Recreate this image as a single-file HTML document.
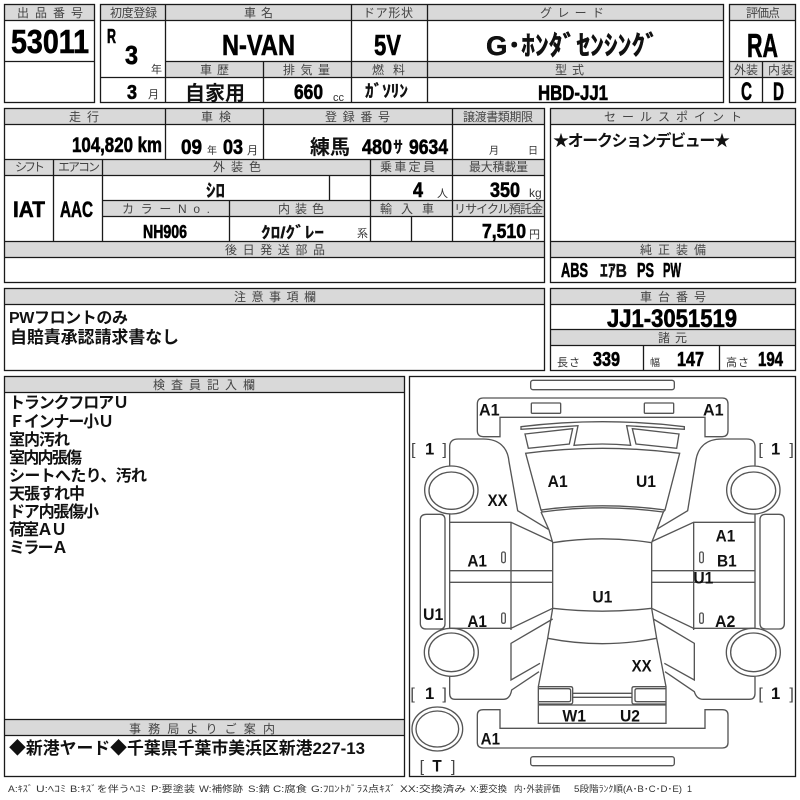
<!DOCTYPE html>
<html lang="ja"><head><meta charset="utf-8"><title>53011</title>
<style>
html,body{margin:0;padding:0;background:#fff}
svg{display:block}
text{font-family:"Liberation Sans","Noto Sans CJK JP",sans-serif}
.h{font-size:12px;fill:#444;font-family:"Noto Sans CJK JP",sans-serif}
.j{font-family:"Noto Sans CJK JP",sans-serif;font-weight:700;fill:#111}
.u{font-size:11px;fill:#333;font-family:"Noto Sans CJK JP",sans-serif}
.b{font-weight:700;fill:#000;stroke:#000;stroke-width:.6;font-family:"Liberation Sans","Noto Sans CJK JP",sans-serif}
.g{fill:#d9d9d9;stroke:none}
.l{fill:none;stroke:#1a1a1a;stroke-width:1.3}
.c{fill:none;stroke:#555;stroke-width:4}
.d{font-weight:700;font-size:50px;fill:#111}
.br{font-size:48px;fill:#444}
.k{font-size:9px;fill:#333;font-family:"Noto Sans CJK JP",sans-serif}
</style></head><body>
<svg xmlns="http://www.w3.org/2000/svg" width="800" height="800" viewBox="0 0 800 800">
<rect width="800" height="800" fill="#fff"/>
<!-- gray headers -->
<g class="g">
<rect x="5" y="5" width="90" height="16"/>
<rect x="101" y="5" width="622" height="16"/>
<rect x="166" y="62" width="557" height="16"/>
<rect x="730" y="5" width="65" height="16"/>
<rect x="730" y="62" width="65" height="16"/>
<rect x="5" y="109" width="539" height="16"/>
<rect x="551" y="109" width="244" height="16"/>
<rect x="5" y="160" width="539" height="16"/>
<rect x="103" y="201" width="441" height="16"/>
<rect x="5" y="241" width="539" height="17"/>
<rect x="551" y="241" width="244" height="17"/>
<rect x="5" y="289" width="539" height="16"/>
<rect x="551" y="289" width="244" height="16"/>
<rect x="551" y="330" width="244" height="16"/>
<rect x="5" y="376" width="399" height="17"/>
<rect x="5" y="720" width="399" height="16"/>
</g>
<!-- grid lines -->
<g class="l">
<rect x="4.5" y="4.5" width="90" height="98"/>
<path d="M4.5 20.5H94.5M4.5 61.5H94.5"/>
<rect x="100.5" y="4.5" width="623" height="98"/>
<path d="M100.5 20.5H723.5M165.5 4.5V102.5M351.5 4.5V102.5M427.5 4.5V102.5M165.5 61.5H723.5M100.5 77.5H723.5M263.5 61.5V102.5"/>
<rect x="729.5" y="4.5" width="66" height="98"/>
<path d="M729.5 20.5H795.5M729.5 61.5H795.5M729.5 77.5H795.5M762.5 61.5V102.5"/>
<rect x="4.5" y="108.5" width="540" height="174"/>
<path d="M4.5 124.5H544.5M165.5 108.5V159.5M263.5 108.5V159.5M452.5 108.5V241M4.5 159.5H544.5M4.5 175.5H544.5M53.5 159.5V241M102.5 159.5V241M370.5 159.5V241M329.5 175.5V200M411.5 216.5V241M229.5 200V241M102.5 200.5H544.5M102.5 216.5H544.5M4.5 241.5H544.5M4.5 257.5H544.5"/>
<rect x="550.5" y="108.5" width="245" height="174"/>
<path d="M550.5 124.5H795.5M550.5 241.5H795.5M550.5 257.5H795.5"/>
<rect x="4.5" y="288.5" width="540" height="82"/>
<path d="M4.5 304.5H544.5"/>
<rect x="550.5" y="288.5" width="245" height="82"/>
<path d="M550.5 304.5H795.5M550.5 329.5H795.5M550.5 345.5H795.5M643.5 345.5V370.5M719.5 345.5V370.5"/>
<rect x="4.5" y="376.5" width="400" height="400"/>
<path d="M4.5 392.5H404.5M4.5 719.5H404.5M4.5 735.5H404.5"/>
<rect x="409.5" y="376.5" width="386" height="400"/>
</g>
<!-- header labels -->
<g class="h">
<text x="17" y="17" textLength="66">出品番号</text>
<text x="110" y="17" textLength="47">初度登録</text>
<text x="244" y="17" textLength="29">車名</text>
<text x="363" y="17" textLength="50">ドア形状</text>
<text x="540" y="17" textLength="64">グレード</text>
<text x="746" y="17" textLength="34">評価点</text>
<text x="200" y="74" textLength="29">車歴</text>
<text x="283" y="74" textLength="47">排気量</text>
<text x="372" y="74" textLength="33">燃料</text>
<text x="555" y="74" textLength="29">型式</text>
<text x="734" y="74" textLength="24">外装</text>
<text x="768" y="74" textLength="25">内装</text>
<text x="69" y="121" textLength="30">走行</text>
<text x="201" y="121" textLength="30">車検</text>
<text x="325" y="121" textLength="65">登録番号</text>
<text x="463" y="121" textLength="70">譲渡書類期限</text>
<text x="604" y="121" textLength="138">セールスポイント</text>
<text x="15" y="171" textLength="30">シフト</text>
<text x="58" y="171" textLength="42">エアコン</text>
<text x="213" y="171" textLength="48">外装色</text>
<text x="380" y="171" textLength="55">乗車定員</text>
<text x="469" y="171" textLength="59">最大積載量</text>
<text x="122" y="213" textLength="88">カラーNo.</text>
<text x="278" y="213" textLength="46">内装色</text>
<text x="380" y="213" textLength="54">輸入車</text>
<text x="454" y="213" textLength="89">リサイクル預託金</text>
<text x="225" y="254" textLength="100">後日発送部品</text>
<text x="640" y="254" textLength="66">純正装備</text>
<text x="234" y="301" textLength="82">注意事項欄</text>
<text x="640" y="301" textLength="66">車台番号</text>
<text x="658" y="342" textLength="29">諸元</text>
<text x="153" y="389" textLength="102">検査員記入欄</text>
<text x="129" y="733" textLength="146">事務局よりご案内</text>
</g>
<!-- values -->
<g class="b">
<text x="11" y="53" font-size="33" textLength="78" lengthAdjust="spacingAndGlyphs">53011</text>
<text x="107" y="43" font-size="20" textLength="9" lengthAdjust="spacingAndGlyphs">R</text>
<text x="125" y="64" font-size="26" textLength="13" lengthAdjust="spacingAndGlyphs">3</text>
<text x="127" y="99" font-size="20" textLength="10" lengthAdjust="spacingAndGlyphs">3</text>
<text x="222" y="55" font-size="29" textLength="73" lengthAdjust="spacingAndGlyphs">N-VAN</text>
<text x="374" y="55" font-size="29" textLength="27" lengthAdjust="spacingAndGlyphs">5V</text>
<text x="747" y="57" font-size="33" textLength="31" lengthAdjust="spacingAndGlyphs">RA</text>
<text x="294" y="99" font-size="21" textLength="29" lengthAdjust="spacingAndGlyphs">660</text>
<text x="538" y="100" font-size="21" textLength="70" lengthAdjust="spacingAndGlyphs">HBD-JJ1</text>
<text x="741" y="100" font-size="25" textLength="11" lengthAdjust="spacingAndGlyphs">C</text>
<text x="773" y="100" font-size="25" textLength="11" lengthAdjust="spacingAndGlyphs">D</text>
<text x="72" y="152" font-size="21" textLength="90" lengthAdjust="spacingAndGlyphs">104,820 km</text>
<text x="181" y="154" font-size="21" textLength="21" lengthAdjust="spacingAndGlyphs">09</text>
<text x="223" y="154" font-size="21" textLength="20" lengthAdjust="spacingAndGlyphs">03</text>
<text x="362" y="154" font-size="21" textLength="30" lengthAdjust="spacingAndGlyphs">480</text>
<text x="409" y="154" font-size="21" textLength="39" lengthAdjust="spacingAndGlyphs">9634</text>
<text x="13" y="217" font-size="22" textLength="32" lengthAdjust="spacingAndGlyphs">IAT</text>
<text x="60" y="217" font-size="22" textLength="33" lengthAdjust="spacingAndGlyphs">AAC</text>
<text x="413" y="197" font-size="21" textLength="10" lengthAdjust="spacingAndGlyphs">4</text>
<text x="490" y="197" font-size="21" textLength="30" lengthAdjust="spacingAndGlyphs">350</text>
<text x="143" y="238" font-size="18" textLength="44" lengthAdjust="spacingAndGlyphs">NH906</text>
<text x="482" y="238" font-size="20" textLength="44" lengthAdjust="spacingAndGlyphs">7,510</text>
<text x="561" y="277" font-size="20" textLength="27" lengthAdjust="spacingAndGlyphs">ABS</text>
<text x="637" y="277" font-size="20" textLength="17" lengthAdjust="spacingAndGlyphs">PS</text>
<text x="663" y="277" font-size="20" textLength="18" lengthAdjust="spacingAndGlyphs">PW</text>
<text x="607" y="327" font-size="25" textLength="130" lengthAdjust="spacingAndGlyphs">JJ1-3051519</text>
<text x="593" y="366" font-size="20" textLength="27" lengthAdjust="spacingAndGlyphs">339</text>
<text x="677" y="366" font-size="20" textLength="27" lengthAdjust="spacingAndGlyphs">147</text>
<text x="758" y="366" font-size="20" textLength="25" lengthAdjust="spacingAndGlyphs">194</text>
</g>
<g class="j">
<text x="486" y="55" font-size="27" textLength="173" lengthAdjust="spacingAndGlyphs" stroke="#000" stroke-width=".4">G･ﾎﾝﾀﾞｾﾝｼﾝｸﾞ</text>
<text x="185" y="100" font-size="20" textLength="60">自家用</text>
<text x="365" y="97" font-size="17" textLength="43" lengthAdjust="spacingAndGlyphs" stroke="#000" stroke-width=".3">ｶﾞｿﾘﾝ</text>
<text x="310" y="154" font-size="20" textLength="40">練馬</text>
<text x="393" y="153" font-size="17" textLength="10" lengthAdjust="spacingAndGlyphs">ｻ</text>
<text x="553" y="146" font-size="16" textLength="177">★オークションデビュー★</text>
<text x="206" y="197" font-size="18" textLength="19" lengthAdjust="spacingAndGlyphs" stroke="#000" stroke-width=".3">ｼﾛ</text>
<text x="261" y="238" font-size="16" textLength="63" lengthAdjust="spacingAndGlyphs" stroke="#000" stroke-width=".2">ｸﾛ/ｸﾞﾚｰ</text>
<text x="600" y="277" font-size="18" textLength="27" lengthAdjust="spacingAndGlyphs" stroke="#000" stroke-width=".3">ｴｱB</text>
<text x="9" y="323" font-size="16" textLength="119">PWフロントのみ</text>
<text x="10" y="343" font-size="17" textLength="169">自賠責承認請求書なし</text>
<g font-size="16">
<text x="9" y="408" textLength="120">トランクフロアＵ</text>
<text x="9" y="427" textLength="105">Ｆインナー小Ｕ</text>
<text x="9" y="445" textLength="61">室内汚れ</text>
<text x="9" y="463" textLength="73">室内内張傷</text>
<text x="9" y="481" textLength="138">シートへたり、汚れ</text>
<text x="9" y="499" textLength="76">天張すれ中</text>
<text x="9" y="517" textLength="90">ドア内張傷小</text>
<text x="9" y="535" textLength="58">荷室ＡＵ</text>
<text x="9" y="553" textLength="59">ミラーＡ</text>
</g>
<text x="9" y="754" font-size="17" textLength="356" lengthAdjust="spacingAndGlyphs">◆新港ヤード◆千葉県千葉市美浜区新港227-13</text>
</g>
<g class="u">
<text x="151" y="73" font-size="11">年</text>
<text x="148" y="98">月</text>
<text x="333" y="101">cc</text>
<text x="207" y="154" font-size="10">年</text>
<text x="247" y="154">月</text>
<text x="489" y="154" font-size="10">月</text>
<text x="528" y="154" font-size="10">日</text>
<text x="437" y="197">人</text>
<text x="529" y="197" font-size="12">kg</text>
<text x="357" y="237">系</text>
<text x="529" y="238">円</text>
<text x="557" y="366" textLength="23">長さ</text>
<text x="650" y="366" font-size="10">幅</text>
<text x="726" y="366" textLength="23">高さ</text>
</g>
<g class="k">
<text x="8" y="792" textLength="25" lengthAdjust="spacingAndGlyphs">A:ｷｽﾞ</text>
<text x="36" y="792" textLength="30" lengthAdjust="spacingAndGlyphs">U:ﾍｺﾐ</text>
<text x="70" y="792" textLength="76" lengthAdjust="spacingAndGlyphs">B:ｷｽﾞを伴うﾍｺﾐ</text>
<text x="151" y="792" textLength="44" lengthAdjust="spacingAndGlyphs">P:要塗装</text>
<text x="199" y="792" textLength="44" lengthAdjust="spacingAndGlyphs">W:補修跡</text>
<text x="248" y="792" textLength="22" lengthAdjust="spacingAndGlyphs">S:錆</text>
<text x="273" y="792" textLength="34" lengthAdjust="spacingAndGlyphs">C:腐食</text>
<text x="311" y="792" textLength="85" lengthAdjust="spacingAndGlyphs">G:ﾌﾛﾝﾄｶﾞﾗｽ点ｷｽﾞ</text>
<text x="400" y="792" textLength="66" lengthAdjust="spacingAndGlyphs">XX:交換済み</text>
<text x="470" y="792" textLength="37" lengthAdjust="spacingAndGlyphs">X:要交換</text>
<text x="514" y="792" textLength="46" lengthAdjust="spacingAndGlyphs">内･外装評価</text>
<text x="574" y="792" textLength="108" lengthAdjust="spacingAndGlyphs">5段階ﾗﾝｸ順(A･B･C･D･E)</text>
<text x="687" y="792">1</text>
</g>

<!-- car diagram (3x zoom coordinates) -->
<g transform="translate(405,375) scale(0.33333)">
<g class="c">
<rect x="377" y="16" width="431" height="28" rx="7"/>
<rect x="377" y="1145" width="431" height="27" rx="7"/>
<path d="M285 185H235Q217 185 217 167V87Q217 69 235 69H952Q969 69 969 87V167Q969 185 952 185H900V127H285Z"/>
<rect x="379" y="84" width="88" height="31" rx="3"/>
<rect x="718" y="84" width="88" height="31" rx="3"/>
<path d="M348 155L348 163L519 152L507 211Q592 203 677 211L665 152L838 163L838 155Q592 125 348 155Z"/>
<path d="M360 177L503 161L493 207L370 220Z"/>
<path d="M822 177L682 161L693 207L815 220Z"/>
<path d="M362 235Q592 205 824 235L780 405Q592 380 408 405Z"/>
<path d="M408 405L412 411Q592 386 775 411L780 405"/>
<path d="M408 411L432 465L443 503M775 411L755 465L740 503"/>
<path d="M443 503Q592 480 740 503"/>
<path d="M443 503V700M740 503V700M443 700Q592 717 740 700"/>
<path d="M443 700L428 790L400 935V1045H783V935L755 790L740 700"/>
<path d="M428 790Q592 822 755 790"/>
<path d="M400 935H497Q503 935 503 941V981Q503 987 497 987H400M400 941H490Q497 941 497 947V975Q497 980 490 980H400"/>
<path d="M783 935H687Q681 935 681 941V981Q681 987 687 987H783M783 941H696Q690 941 690 947V975Q690 980 696 980H783"/>
<path d="M503 955H681M503 967H681M400 990H783"/>
<path d="M285 1004V1060H900V1004H952Q969 1004 969 1020V1103Q969 1119 952 1119H235Q217 1119 217 1103V1020Q217 1004 235 1004Z"/>
<path d="M134 272V215Q134 192 160 192H235C280 192 308 215 312 260L338 407L430 463"/>
<path d="M1050 272V215Q1050 192 1025 192H950C905 192 878 215 872 260L848 407L755 463"/>
<path d="M134 418V760H318L443 700M318 442V765M134 442H318L443 500M134 587H443M134 622H443"/>
<path d="M1050 418V760H866L740 700M866 442V765M1050 442H866L740 500M740 587H1050M740 622H1050"/>
<path d="M443 732L318 805V915L405 865M402 890L320 945Q315 973 295 973H150Q134 973 134 955V905"/>
<path d="M745 732L868 805V915L778 865M780 890L868 950Q875 973 895 973H1033Q1050 973 1050 955V905"/>
<ellipse cx="139" cy="345" rx="80" ry="72"/><ellipse cx="139" cy="347" rx="67" ry="56"/>
<ellipse cx="1045" cy="345" rx="80" ry="72"/><ellipse cx="1045" cy="347" rx="67" ry="56"/>
<ellipse cx="139" cy="832" rx="81" ry="72"/><ellipse cx="139" cy="832" rx="68" ry="58"/>
<ellipse cx="1045" cy="832" rx="81" ry="72"/><ellipse cx="1045" cy="832" rx="68" ry="58"/>
<ellipse cx="97" cy="1062" rx="76" ry="66"/><ellipse cx="97" cy="1062" rx="64" ry="54"/>
<path d="M46 435Q46 418 65 418H105Q120 418 120 435V745Q120 762 105 762H65Q46 762 46 745Z"/>
<path d="M1065 435Q1065 418 1082 418H1122Q1138 418 1138 435V745Q1138 762 1122 762H1082Q1065 762 1065 745Z"/>
<rect x="290" y="531" width="11" height="32" rx="5"/>
<rect x="884" y="531" width="11" height="32" rx="5"/>
<rect x="290" y="714" width="11" height="31" rx="5"/>
<rect x="884" y="714" width="11" height="31" rx="5"/>
</g>
<g class="d">
<text x="222" y="122" textLength="62" lengthAdjust="spacingAndGlyphs">A1</text>
<text x="894" y="122" textLength="62" lengthAdjust="spacingAndGlyphs">A1</text>
<text x="428" y="336" textLength="60" lengthAdjust="spacingAndGlyphs">A1</text>
<text x="693" y="336" textLength="60" lengthAdjust="spacingAndGlyphs">U1</text>
<text x="248" y="393" textLength="60" lengthAdjust="spacingAndGlyphs">XX</text>
<text x="187" y="575" textLength="59" lengthAdjust="spacingAndGlyphs">A1</text>
<text x="932" y="500" textLength="59" lengthAdjust="spacingAndGlyphs">A1</text>
<text x="936" y="575" textLength="59" lengthAdjust="spacingAndGlyphs">B1</text>
<text x="865" y="625" textLength="60" lengthAdjust="spacingAndGlyphs">U1</text>
<text x="562" y="683" textLength="60" lengthAdjust="spacingAndGlyphs">U1</text>
<text x="54" y="735" textLength="61" lengthAdjust="spacingAndGlyphs">U1</text>
<text x="187" y="756" textLength="59" lengthAdjust="spacingAndGlyphs">A1</text>
<text x="930" y="756" textLength="61" lengthAdjust="spacingAndGlyphs">A2</text>
<text x="680" y="890" textLength="60" lengthAdjust="spacingAndGlyphs">XX</text>
<text x="472" y="1040" textLength="71" lengthAdjust="spacingAndGlyphs">W1</text>
<text x="645" y="1040" textLength="60" lengthAdjust="spacingAndGlyphs">U2</text>
<text x="227" y="1108" textLength="58" lengthAdjust="spacingAndGlyphs">A1</text>
<text x="60" y="238">1</text><text x="1098" y="238">1</text>
<text x="60" y="972">1</text><text x="1098" y="972">1</text>
<text x="82" y="1190" textLength="28" lengthAdjust="spacingAndGlyphs">T</text>
</g>
<g class="br">
<text x="18" y="238">[</text><text x="112" y="238">]</text>
<text x="1060" y="238">[</text><text x="1153" y="238">]</text>
<text x="16" y="972">[</text><text x="112" y="972">]</text>
<text x="1060" y="972">[</text><text x="1153" y="972">]</text>
<text x="44" y="1190">[</text><text x="138" y="1190">]</text>
</g>
</g>
</svg>
</body></html>
